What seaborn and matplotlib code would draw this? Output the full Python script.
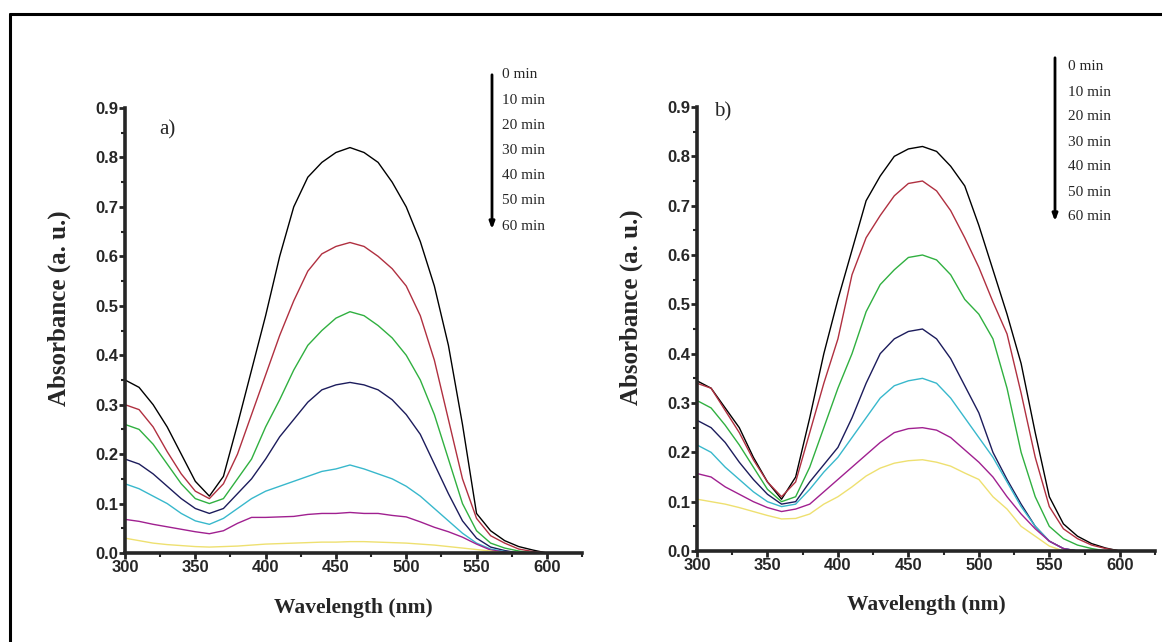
import numpy as np
import pandas as pd
import matplotlib
matplotlib.use("Agg")
import matplotlib.pyplot as plt
from matplotlib.lines import Line2D
from matplotlib.ticker import MultipleLocator, FormatStrFormatter
import seaborn as sns

# wavelength grid (nm) and the time labels of the series
wavelength = list(range(300, 601, 10))
time_labels = ["0 min", "10 min", "20 min", "30 min", "40 min", "50 min", "60 min"]
line_colors = ["#000000", "#b03040", "#30b040", "#1c1c5c", "#38b8cc", "#a02090", "#eee070"]

# panel a) absorbance values
a_0 = [0.350, 0.335, 0.300, 0.255, 0.200, 0.145, 0.115, 0.155, 0.260, 0.370, 0.480, 0.600, 0.700, 0.760, 0.790, 0.810,
       0.820, 0.810, 0.790, 0.750, 0.700, 0.630, 0.540, 0.420, 0.260, 0.080, 0.045, 0.025, 0.013, 0.006, 0.000]
a_10 = [0.300, 0.290, 0.255, 0.205, 0.160, 0.125, 0.110, 0.140, 0.200, 0.280, 0.360, 0.440, 0.510, 0.570, 0.605, 0.620,
        0.628, 0.620, 0.600, 0.575, 0.540, 0.480, 0.390, 0.270, 0.150, 0.070, 0.035, 0.020, 0.008, 0.003, 0.000]
a_20 = [0.260, 0.250, 0.220, 0.180, 0.140, 0.110, 0.100, 0.110, 0.150, 0.190, 0.255, 0.310, 0.370, 0.420, 0.450, 0.475,
        0.488, 0.480, 0.460, 0.435, 0.400, 0.350, 0.280, 0.190, 0.100, 0.045, 0.020, 0.010, 0.004, 0.000, 0.000]
a_30 = [0.190, 0.180, 0.160, 0.135, 0.110, 0.090, 0.080, 0.090, 0.120, 0.150, 0.190, 0.235, 0.270, 0.305, 0.330, 0.340,
        0.345, 0.340, 0.330, 0.310, 0.280, 0.240, 0.180, 0.120, 0.065, 0.030, 0.012, 0.005, 0.000, 0.000, 0.000]
a_40 = [0.140, 0.130, 0.115, 0.100, 0.080, 0.065, 0.058, 0.070, 0.090, 0.110, 0.125, 0.135, 0.145, 0.155, 0.165, 0.170,
        0.178, 0.170, 0.160, 0.150, 0.135, 0.115, 0.090, 0.065, 0.040, 0.020, 0.008, 0.003, 0.000, 0.000, 0.000]
a_50 = [0.068, 0.064, 0.058, 0.053, 0.048, 0.043, 0.039, 0.045, 0.060, 0.072, 0.072, 0.073, 0.074, 0.078, 0.080, 0.080,
        0.082, 0.080, 0.080, 0.076, 0.073, 0.063, 0.052, 0.043, 0.032, 0.018, 0.006, 0.002, 0.000, 0.000, 0.000]
a_60 = [0.030, 0.025, 0.020, 0.017, 0.015, 0.013, 0.012, 0.013, 0.014, 0.016, 0.018, 0.019, 0.020, 0.021, 0.022, 0.022,
        0.023, 0.023, 0.022, 0.021, 0.020, 0.018, 0.016, 0.013, 0.010, 0.007, 0.004, 0.000, 0.000, 0.000, 0.000]

# panel b) absorbance values
b_0 = [0.345, 0.330, 0.290, 0.250, 0.190, 0.140, 0.105, 0.150, 0.270, 0.400, 0.510, 0.610, 0.710, 0.760, 0.800, 0.815,
       0.820, 0.810, 0.780, 0.740, 0.660, 0.570, 0.480, 0.380, 0.240, 0.110, 0.055, 0.030, 0.015, 0.006, 0.000]
b_10 = [0.340, 0.330, 0.285, 0.240, 0.185, 0.140, 0.110, 0.140, 0.240, 0.340, 0.430, 0.560, 0.635, 0.680, 0.720, 0.745,
        0.750, 0.730, 0.690, 0.635, 0.575, 0.505, 0.440, 0.320, 0.190, 0.090, 0.045, 0.025, 0.012, 0.005, 0.000]
b_20 = [0.305, 0.290, 0.255, 0.215, 0.170, 0.125, 0.100, 0.110, 0.170, 0.250, 0.330, 0.400, 0.485, 0.540, 0.570, 0.595,
        0.600, 0.590, 0.560, 0.510, 0.480, 0.430, 0.330, 0.200, 0.110, 0.050, 0.025, 0.012, 0.005, 0.000, 0.000]
b_30 = [0.265, 0.250, 0.220, 0.180, 0.145, 0.115, 0.095, 0.100, 0.140, 0.175, 0.210, 0.270, 0.340, 0.400, 0.430, 0.445,
        0.450, 0.430, 0.390, 0.335, 0.280, 0.200, 0.145, 0.095, 0.050, 0.020, 0.005, 0.000, 0.000, 0.000, 0.000]
b_40 = [0.215, 0.200, 0.170, 0.145, 0.120, 0.100, 0.090, 0.095, 0.125, 0.160, 0.190, 0.230, 0.270, 0.310, 0.335, 0.345,
        0.350, 0.340, 0.310, 0.270, 0.230, 0.190, 0.140, 0.090, 0.050, 0.020, 0.005, 0.000, 0.000, 0.000, 0.000]
b_50 = [0.157, 0.150, 0.130, 0.115, 0.100, 0.088, 0.080, 0.085, 0.095, 0.120, 0.145, 0.170, 0.195, 0.220, 0.240, 0.248,
        0.250, 0.245, 0.230, 0.205, 0.180, 0.150, 0.110, 0.075, 0.045, 0.020, 0.005, 0.000, 0.000, 0.000, 0.000]
b_60 = [0.105, 0.100, 0.095, 0.088, 0.080, 0.072, 0.065, 0.066, 0.075, 0.095, 0.110, 0.130, 0.152, 0.168, 0.178, 0.183,
        0.185, 0.180, 0.172, 0.158, 0.145, 0.110, 0.085, 0.050, 0.030, 0.010, 0.000, 0.000, 0.000, 0.000, 0.000]

sns.set_style("ticks")
plt.rcParams["font.family"] = ["Liberation Sans", "DejaVu Sans"]
SERIF = ["Liberation Serif", "DejaVu Serif"]

W, H = 1162, 642
fig = plt.figure(figsize=(W / 100, H / 100), dpi=100)
ax_a = fig.add_axes([125 / W, 89 / H, 457 / W, 445 / H])
ax_b = fig.add_axes([697 / W, 91 / H, 458 / W, 444 / H])


def draw_panel(ax, curves, tag, tag_pos):
    df = pd.DataFrame({
        "wl": np.tile(wavelength, len(curves)),
        "absorb": np.concatenate(curves),
        "time": np.repeat(time_labels, len(wavelength)),
    })
    sns.lineplot(data=df, x="wl", y="absorb", hue="time", hue_order=time_labels,
                 palette=line_colors, lw=1.0, legend=False, estimator=None, ax=ax)
    ax.set_xlim(300, 625)
    ax.set_ylim(0, 0.9)
    ax.spines[["top", "right"]].set_visible(False)
    for s in ["left", "bottom"]:
        ax.spines[s].set_linewidth(2.6)
    ax.set_xticks(range(300, 601, 50))
    ax.xaxis.set_minor_locator(MultipleLocator(25))
    ax.set_yticks(np.arange(0, 0.91, 0.1))
    ax.yaxis.set_minor_locator(MultipleLocator(0.05))
    ax.yaxis.set_major_formatter(FormatStrFormatter("%.1f"))
    ax.tick_params(which="major", direction="out", length=4, width=2, labelsize=12, pad=1)
    ax.tick_params(which="minor", direction="out", length=3, width=1.5)
    plt.setp(ax.get_xticklabels() + ax.get_yticklabels(), fontweight="bold")
    ax.set_xlabel("Wavelength (nm)", fontfamily=SERIF, fontweight="bold", fontsize=15.5)
    ax.set_ylabel("Absorbance (a. u.)", fontfamily=SERIF, fontweight="bold", fontsize=18)
    ax.xaxis.set_label_coords(0.5, -0.100)
    ax.yaxis.set_label_coords(-0.118, 0.55)
    ax.text(tag_pos[0], tag_pos[1], tag, fontfamily=SERIF, fontsize=15, ha="center", va="center")


draw_panel(ax_a, [a_0, a_10, a_20, a_30, a_40, a_50, a_60], "a)", (330, 0.856))
draw_panel(ax_b, [b_0, b_10, b_20, b_30, b_40, b_50, b_60], "b)", (318, 0.89))


# time legend: text column with a downward arrow
def time_legend(x_arrow, x_text, y_first, dy, y_arrow):
    for i, lab in enumerate(time_labels):
        fig.text(x_text / W, 1 - (y_first + i * dy) / H, lab, fontfamily=SERIF, fontsize=11,
                 ha="left", va="center")
    fig.add_artist(matplotlib.patches.FancyArrowPatch(
        (x_arrow / W, 1 - y_arrow[0] / H), (x_arrow / W, 1 - y_arrow[1] / H),
        transform=fig.transFigure, arrowstyle="-|>,head_length=4,head_width=1.5",
        lw=2, color="black", mutation_scale=1))


time_legend(492, 502, 75, 25.2, (72, 232))
time_legend(1055, 1068, 67, 25.0, (55, 224))

# outer frame (left and top edges)
fig.add_artist(Line2D([10 / W, 10 / W], [0, 1 - 14 / H], transform=fig.transFigure, color="black", lw=2.2))
fig.add_artist(Line2D([10 / W, 1], [1 - 14 / H, 1 - 14 / H], transform=fig.transFigure, color="black", lw=2.2))

fig.savefig("out.png", dpi=100)
